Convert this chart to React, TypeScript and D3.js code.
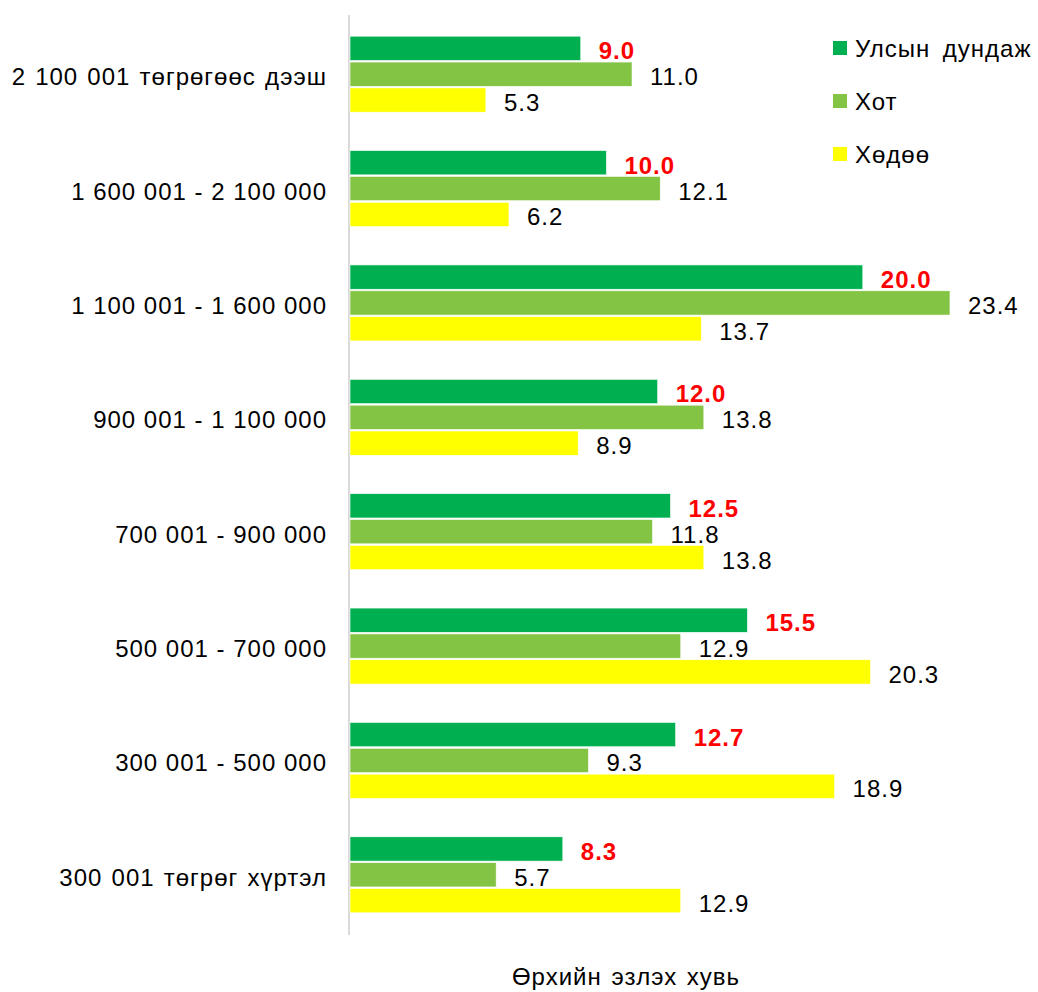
import React, { useRef, useEffect } from 'react';
import * as d3 from 'd3';

const categories = [
  '2 100 001 төгрөгөөс дээш',
  '1 600 001 - 2 100 000',
  '1 100 001 - 1 600 000',
  '900 001 - 1 100 000',
  '700 001 - 900 000',
  '500 001 - 700 000',
  '300 001 - 500 000',
  '300 001 төгрөг хүртэл',
];

const seriesNames = ['Улсын дундаж', 'Хот', 'Хөдөө'];

const nationalValues = [9.0, 10.0, 20.0, 12.0, 12.5, 15.5, 12.7, 8.3];
const cityValues = [11.0, 12.1, 23.4, 13.8, 11.8, 12.9, 9.3, 5.7];
const ruralValues = [5.3, 6.2, 13.7, 8.9, 13.8, 20.3, 18.9, 12.9];

const axisTitle = 'Өрхийн эзлэх хувь';

const colors = ['#00B050', '#84C444', '#FFFF00'];

const W = 1038;
const H = 992;

const App: React.FC = () => {
  const svgRef = useRef<SVGSVGElement | null>(null);

  useEffect(() => {
    if (!svgRef.current) return;
    const svg = d3.select(svgRef.current);
    svg.selectAll('*').remove();

    const font = '"Liberation Sans", Arial, sans-serif';
    const allSeries = [nationalValues, cityValues, ruralValues];

    const x = d3.scaleLinear().domain([0, 25]).range([350, 991]);
    const y = d3.scaleBand<string>().domain(categories).range([17, 932]);
    const inner = d3.scaleBand<number>()
      .domain([0, 1, 2])
      .range([(y.bandwidth() - 76) / 2, (y.bandwidth() + 76) / 2])
      .paddingInner(0.06);

    // vertical axis line
    svg.append('line')
      .attr('x1', x(0) - 1).attr('x2', x(0) - 1)
      .attr('y1', 15).attr('y2', 935)
      .attr('stroke', '#d9d9d9')
      .attr('stroke-width', 2);

    const groups = svg.selectAll('g.cat')
      .data(categories)
      .join('g')
      .attr('class', 'cat')
      .attr('transform', d => `translate(0,${y(d)})`);

    allSeries.forEach((vals, si) => {
      groups.append('rect')
        .attr('x', x(0))
        .attr('y', inner(si)!)
        .attr('width', (_, i) => x(vals[i]) - x(0))
        .attr('height', inner.bandwidth())
        .attr('fill', colors[si])
        .attr('stroke', '#ffffff')
        .attr('stroke-width', 0.6);

      groups.append('text')
        .attr('x', (_, i) => x(vals[i]) + 18)
        .attr('y', inner(si)! + inner.bandwidth() / 2 + 11)
        .attr('font-family', font)
        .attr('font-size', 24)
        .attr('letter-spacing', 1)
        .attr('font-weight', si === 0 ? 'bold' : 'normal')
        .attr('fill', si === 0 ? '#FF0000' : '#000000')
        .text((_, i) => vals[i].toFixed(1));
    });

    // category labels (wider gaps between words that are not numbers)
    groups.append('text')
      .attr('x', 327)
      .attr('y', y.bandwidth() / 2 + 11)
      .attr('text-anchor', 'end')
      .attr('font-family', font)
      .attr('font-size', 24)
      .attr('letter-spacing', 1)
      .attr('word-spacing', d => (/[а-яөү]/i.test(d) ? 1.5 : 0))
      .attr('fill', '#000')
      .text(d => d);

    // legend
    const legend = svg.append('g').attr('transform', 'translate(833,48)');
    seriesNames.forEach((name, i) => {
      const row = legend.append('g').attr('transform', `translate(0,${i * 53})`);
      row.append('rect')
        .attr('x', 0).attr('y', -7)
        .attr('width', 14).attr('height', 14)
        .attr('fill', colors[i]);
      row.append('text')
        .attr('x', 22).attr('y', 9)
        .attr('font-family', font)
        .attr('font-size', 24)
        .attr('letter-spacing', 1)
        .attr('word-spacing', 5)
        .attr('fill', '#000')
        .text(name);
    });

    // axis title
    svg.append('text')
      .attr('x', 626)
      .attr('y', 985)
      .attr('text-anchor', 'middle')
      .attr('font-family', font)
      .attr('font-size', 24)
      .attr('letter-spacing', 1)
      .attr('word-spacing', 2)
      .attr('fill', '#000')
      .text(axisTitle);
  }, []);

  return (
    <svg
      ref={svgRef}
      width={W}
      height={H}
      style={{ position: 'absolute', left: 0, top: 0, background: '#fff' }}
    />
  );
};

export default App;
